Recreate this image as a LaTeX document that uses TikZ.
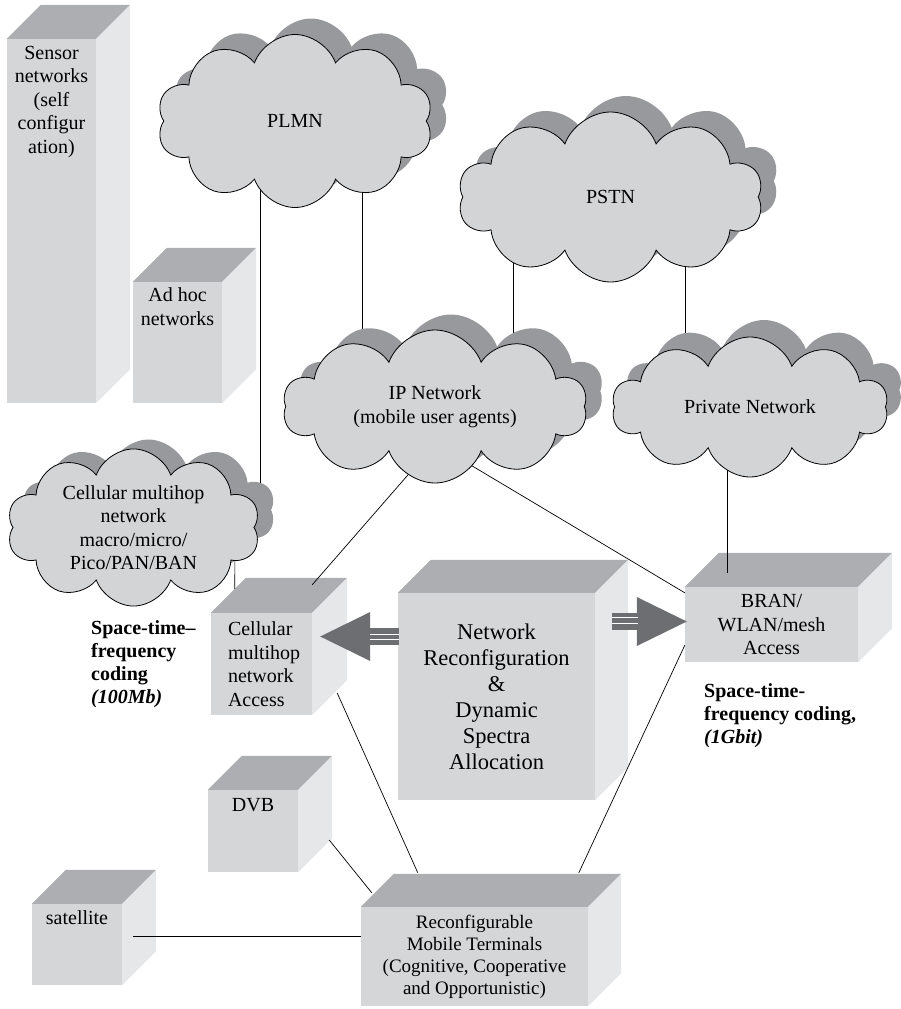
\documentclass[tikz,border=0pt]{standalone}
\usepackage{fontspec}
\setmainfont{Liberation Serif}
\usepackage{tikz}
\usetikzlibrary{shapes,calc,positioning,arrows.meta}

\definecolor{cloudfill}{RGB}{211,212,214}
\definecolor{cloudshade}{RGB}{152,153,156}
\definecolor{boxfront}{RGB}{213,214,216}
\definecolor{boxtop}{RGB}{173,174,177}
\definecolor{boxside}{RGB}{230,231,233}
\definecolor{arrowgray}{RGB}{109,110,113}

\pgfdeclarelayer{boxes}
\pgfdeclarelayer{wires}
\pgfsetlayers{boxes,wires,main}

\newcommand{\cubefaces}[2]{%
  \fill[boxtop] (#1.north west) -- ++(#2,#2) -- ($(#1.north east)+(#2,#2)$) -- (#1.north east) -- cycle;
  \fill[boxside] (#1.north east) -- ++(#2,#2) -- ($(#1.south east)+(#2,#2)$) -- (#1.south east) -- cycle;
}

\tikzset{
  netcloud/.style={cloud, cloud puffs=10, cloud puff arc=140, cloud ignores aspect, fill=cloudfill, draw=black, line width=0.8pt, inner sep=0pt, align=center, font=\fontsize{20}{23.5}\selectfont},
  cloudshadow/.style={cloud, cloud puffs=10, cloud puff arc=140, cloud ignores aspect, fill=cloudshade, inner sep=0pt},
  cube/.style={rectangle, fill=boxfront, inner sep=0pt, align=center, font=\fontsize{20}{23.5}\selectfont},
  boxtext/.style={inner sep=0pt, align=center, font=\fontsize{20}{23.5}\selectfont},
  wire/.style={line width=0.7pt},
  fatarrow/.style={arrowgray, line width=17pt, -{Triangle[length=50pt,width=49pt,line width=0pt]}},
  stripe/.style={white, line width=1pt},
  coding/.style={inner sep=0pt, align=left, font=\bfseries\fontsize{20}{23}\selectfont}
}

\begin{document}
\begin{tikzpicture}[x=1pt,y=1pt]
\useasboundingbox (0,0) rectangle (901,-1009);

% boxes
\begin{pgfonlayer}{boxes}
\node[cube, minimum width=89pt, minimum height=364pt] (sensor) at (51.5,-221) {};
\cubefaces{sensor}{34}
\node[boxtext, below=7pt of sensor.north] (sensortxt) {Sensor\\networks\\(self\\configur\\ation)};

\node[cube, minimum width=89pt, minimum height=121pt] (adhoc) at (177.5,-342.5) {};
\cubefaces{adhoc}{34}
\node[boxtext, below=6pt of adhoc.north] (adhoctxt) {Ad hoc\\networks};

\node[cube, minimum width=101pt, minimum height=102pt] (cellacc) at (261.5,-664) {};
\cubefaces{cellacc}{35}
\node[boxtext, align=left, right=17pt of cellacc.west] (cellacctxt) {Cellular\\multihop\\network\\Access};

\node[cube, minimum width=197pt, minimum height=207pt, font=\fontsize{22.5}{26}\selectfont] (central) at (496.5,-696.5)
  {Network\\Reconfiguration\\\&\\Dynamic\\Spectra\\Allocation};
\cubefaces{central}{33}

\node[cube, minimum width=173pt, minimum height=75pt] (bran) at (771.5,-624.5) {BRAN/\\WLAN/mesh\\Access};
\cubefaces{bran}{34}

\node[cube, minimum width=90pt, minimum height=82pt] (dvb) at (253,-831) {};
\cubefaces{dvb}{34}
\node[boxtext, below=8pt of dvb.north] (dvbtxt) {DVB};

\node[cube, minimum width=90pt, minimum height=81pt] (sat) at (77,-944.5) {};
\cubefaces{sat}{34}
\node[boxtext, below=7pt of sat.north] (sattxt) {satellite};

\node[cube, minimum width=227pt, minimum height=99pt, font=\fontsize{19}{22}\selectfont] (mobile) at (474.5,-956.5)
  {Reconfigurable\\Mobile Terminals\\(Cognitive, Cooperative\\and Opportunistic)};
\cubefaces{mobile}{33}
\end{pgfonlayer}

% clouds
\node[cloudshadow, minimum width=276pt, minimum height=173pt] (plmnsh) at (311,-105) {};
\node[netcloud, minimum width=276pt, minimum height=173pt] (plmn) at (295,-121) {PLMN};

\node[cloudshadow, minimum width=305pt, minimum height=170pt] (pstnsh) at (626,-181) {};
\node[netcloud, minimum width=305pt, minimum height=170pt] (pstn) at (610.5,-197) {PSTN};

\node[cloudshadow, minimum width=304pt, minimum height=153pt] (ipnetsh) at (451,-391) {};
\node[netcloud, minimum width=304pt, minimum height=153pt] (ipnet) at (435,-406.5) {IP Network\\(mobile user agents)};

\node[cloudshadow, minimum width=276pt, minimum height=140pt] (privatesh) at (764,-390) {};
\node[netcloud, minimum width=276pt, minimum height=140pt] (private) at (750,-407) {Private Network};

\node[cloudshadow, minimum width=253pt, minimum height=141pt] (cellcloudsh) at (148.5,-510) {};
\node[netcloud, minimum width=253pt, minimum height=141pt] (cellcloud) at (133.5,-527.5) {Cellular multihop\\network\\macro/micro/\\Pico/PAN/BAN};

% labels
\node[coding, anchor=north west] (codingA) at (91,-620) {Space-time--\\frequency\\coding\\\textit{(100Mb)}};
\node[coding, anchor=north west] (codingB) at (704,-683) {Space-time-\\frequency coding,\\\textit{(1Gbit)}};

% wires
\begin{pgfonlayer}{wires}
\draw[wire] ([xshift=-35pt]plmn.center) |- (cellcloud.center);
\draw[wire] ([xshift=67pt]plmn.center) |- (ipnet.center);
\draw[wire] ([xshift=-97.5pt]pstn.center) |- (ipnet.center);
\draw[wire] ([xshift=74.5pt]pstn.center) |- (private.center);
\draw[wire] ([xshift=101.5pt]cellcloud.center) -- ($(cellacc.north west)+(24,24)$);
\draw[wire] ([xshift=-23pt]private.center) -- ($(bran.north)+(-44.5,14)$);
\draw[wire] ($(ipnet.center)+(19.5,-15)$) -- ($(cellacc.north east)+(0,28)$);
\draw[wire] ($(ipnet.center)+(-18,-26.5)$) -- ($(bran.north west)+(0,-6)$);
\draw[wire] ($(cellacc.east)+(25,-29)$) -- ($(mobile.north west)+(57,34)$);
\draw[wire] ($(bran.south west)+(0,17)$) -- ($(mobile.north west)+(218,34)$);
\draw[wire] ($(dvb.east)+(31,-9)$) -- ($(mobile.north west)+(11,14)$);
\draw[wire] ($(sat.east)+(11,8.5)$) -- ($(mobile.west)+(0,20.5)$);
\end{pgfonlayer}

% arrows
\draw[fatarrow] ($(central.west)+(1,60)$) -- ($(cellacc.east)+(8,27.5)$);
\draw[stripe] ($(central.west)+(1,62.5)$) -- ($(cellacc.east)+(58,30)$);
\draw[stripe] ($(central.west)+(1,57.5)$) -- ($(cellacc.east)+(58,25)$);
\draw[fatarrow] ($(central.east)+(17,75)$) -- ($(bran.west)+(2,3)$);
\draw[stripe] ($(central.east)+(17,79)$) -- ($(bran.west)+(-47,7)$);
\draw[stripe] ($(central.east)+(17,73)$) -- ($(bran.west)+(-47,1)$);

\end{tikzpicture}
\end{document}
